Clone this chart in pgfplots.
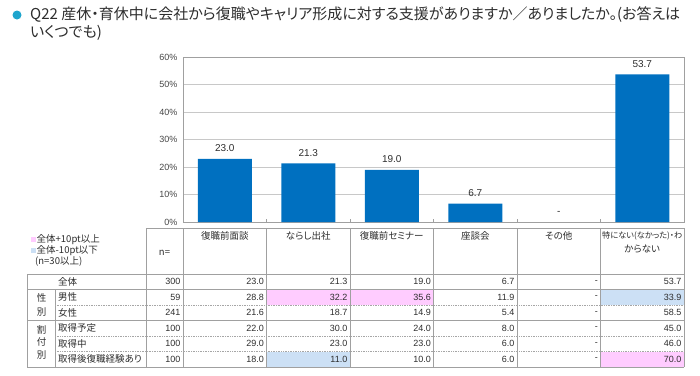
\documentclass[border=0pt]{standalone}
\usepackage{fontspec}
\setmainfont{Noto Sans CJK JP}[RawFeature=+palt]
\newfontfamily\numfont{Liberation Sans}
\usepackage{pgfplots}
\pgfplotsset{compat=1.18}
\definecolor{barblue}{RGB}{0,112,192}
\definecolor{bulletc}{RGB}{30,165,205}
\definecolor{gridgray}{RGB}{200,200,200}
\definecolor{linegray}{RGB}{160,160,160}
\definecolor{pinkcell}{RGB}{255,204,255}
\definecolor{bluecell}{RGB}{204,224,245}
\definecolor{txt}{RGB}{45,45,45}
\definecolor{ticktxt}{RGB}{70,70,70}
\begin{document}
\begin{tikzpicture}[x=1pt,y=-1pt]
\useasboundingbox (0,0) rectangle (700,375);
% title
\fill[bulletc] (17,15) circle (4.5);
\node[anchor=west,inner sep=0,text=txt,font=\fontsize{15}{15}\selectfont] at (30,15) {Q22 産休・育休中に会社から復職やキャリア形成に対する支援がありますか／ありましたか。(お答えは};
\node[anchor=west,inner sep=0,text=txt,font=\fontsize{15}{15}\selectfont] at (30,33) {いくつでも)};

\begin{axis}[
  at={(183pt,-222pt)}, anchor=south west,
  scale only axis, width=501pt, height=165pt,
  xmin=-0.5, xmax=5.5, ymin=0, ymax=60,
  xtick={0.5,1.5,2.5,3.5,4.5}, xticklabels={},
  ytick={0,10,20,30,40,50,60},
  /pgf/number format/assume math mode=true,
  yticklabel={\pgfmathprintnumber{\tick}\%},
  yticklabel style={font=\fontsize{9}{9}\numfont, text=ticktxt, xshift=-2pt},
  ymajorgrids, grid style={gridgray, line width=0.6pt},
  axis line style={linegray, line width=0.8pt},
  tick pos=left,
  ytick style={draw=none},
  xtick style={linegray, line width=0.6pt},
  major tick length=3pt,
  tick align=inside,
  clip=false,
]
\addplot[ybar, bar width=54pt, fill=barblue, draw=none,
  nodes near coords, point meta=explicit symbolic,
  every node near coord/.append style={font=\fontsize{10}{10}\numfont, text=txt, inner sep=0pt, yshift=7pt}]
  coordinates {(0,23.0) [23.0] (1,21.3) [21.3] (2,19.0) [19.0] (3,6.7) [6.7] (5,53.7) [53.7]};
\addplot[draw=none, mark=none,
  nodes near coords, point meta=explicit symbolic,
  every node near coord/.append style={font=\fontsize{10}{10}\numfont, text=txt, inner sep=0pt, anchor=south, yshift=7pt}]
  coordinates {(4,0) [-]};
\end{axis}

% cell fills
\fill[pinkcell] (266.5,289.5) rectangle (350,305);
\fill[pinkcell] (350,289.5) rectangle (433.5,305);
\fill[bluecell] (600.5,289.5) rectangle (684,305);
\fill[bluecell] (266.5,351.5) rectangle (350,367);
\fill[pinkcell] (600.5,351.5) rectangle (684,367);

% table lines
\begin{scope}[draw=linegray, line width=0.7pt]
\draw (146,228) -- (684,228);
\foreach \x in {146,183,266.5,350,433.5,517,600.5,684} \draw (\x,228) -- (\x,367);
\draw (27,274) -- (684,274);
\draw (27,289.5) -- (684,289.5);
\draw (27,320.5) -- (684,320.5);
\draw (27,367) -- (684,367);
\draw (27,274) -- (27,367);
\draw (55,289.5) -- (55,367);
\foreach \y in {305,336,351.5} \draw[densely dotted, gray!70] (55,\y) -- (684,\y);
\end{scope}

% headers
\begin{scope}[every node/.style={inner sep=0pt, text=txt, font=\fontsize{9.5}{9.5}\selectfont}]
\foreach \x/\t in {224.75/復職前面談, 308.25/ならし出社, 391.75/復職前セミナー, 475.25/座談会, 558.75/その他}
  \node at (\x,236) {\t};
\node[font=\fontsize{8.2}{8.2}\selectfont] at (642.25,236) {特にない(なかった)・わ};
\node at (642.25,249) {からない};
\node at (164.5,253) {n=};
% legend
\fill[pinkcell] (31,237) rectangle (35.5,241.5);
\node[anchor=west] at (36.5,239.5) {全体+10pt以上};
\fill[bluecell] (31,248) rectangle (35.5,252.5);
\node[anchor=west] at (36.5,250.5) {全体-10pt以下};
\node[anchor=west] at (35,261.5) {(n=30以上)};
% row labels
\node[anchor=west] at (58,281.75) {全体};
\node[anchor=west] at (58,297.25) {男性};
\node[anchor=west] at (58,312.75) {女性};
\node[anchor=west] at (58,328.25) {取得予定};
\node[anchor=west] at (58,343.75) {取得中};
\node[anchor=west] at (58,359.25) {取得後復職経験あり};
\node at (41.5,297.5) {性};
\node at (41.5,312) {別};
\node at (41.5,329.5) {割};
\node at (41.5,342) {付};
\node at (41.5,355) {別};
\end{scope}

% values
\begin{scope}[every node/.style={inner sep=0pt, anchor=east, text=txt, font=\fontsize{9}{9}\numfont}]
\foreach \y/\n/\a/\b/\c/\d/\e/\f in {
  281.75/300/23.0/21.3/19.0/6.7/-/53.7,
  297.25/59/28.8/32.2/35.6/11.9/-/33.9,
  312.75/241/21.6/18.7/14.9/5.4/-/58.5,
  328.25/100/22.0/30.0/24.0/8.0/-/45.0,
  343.75/100/29.0/23.0/23.0/6.0/-/46.0,
  359.25/100/18.0/11.0/10.0/6.0/-/70.0}{
  \node at (180.5,\y) {\n};
  \node at (264,\y) {\a};
  \node at (347.5,\y) {\b};
  \node at (431,\y) {\c};
  \node at (514.5,\y) {\d};
  \node at (598,\y) {\e};
  \node at (681.5,\y) {\f};
}
\end{scope}
\end{tikzpicture}
\end{document}
